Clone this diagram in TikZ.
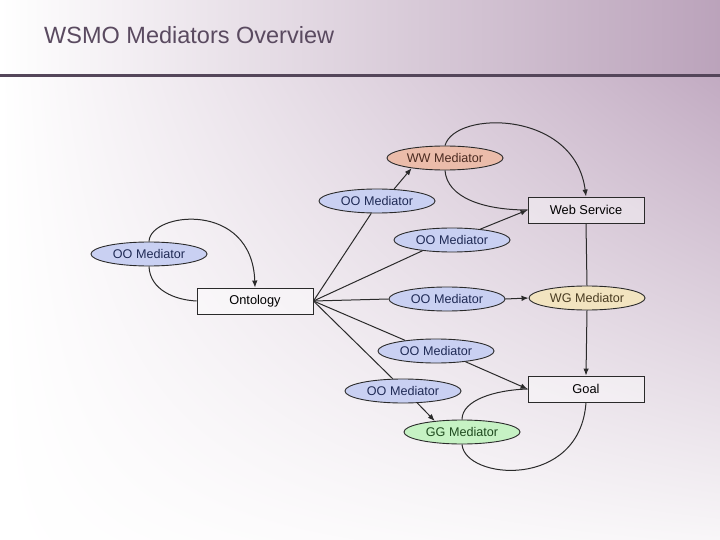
\documentclass[tikz,border=0pt]{standalone}
\usepackage{fontspec}
\setmainfont{Liberation Sans}
\usepackage{tikz}
\usetikzlibrary{shapes.geometric,arrows.meta,shadings}

\definecolor{titletext}{HTML}{5A4A60}
\definecolor{titlebar}{HTML}{54465A}
\definecolor{lilac}{HTML}{BBA3BB}
\definecolor{paleback}{HTML}{C2ABC2}
\definecolor{oofill}{HTML}{C9D0F2}
\definecolor{ootext}{HTML}{1F2A55}
\definecolor{wwfill}{HTML}{EBBCAA}
\definecolor{wwtext}{HTML}{4A2A20}
\definecolor{wgfill}{HTML}{F2E4C0}
\definecolor{wgtext}{HTML}{4A3C22}
\definecolor{ggfill}{HTML}{C6F2C4}
\definecolor{ggtext}{HTML}{1F4A1F}
\definecolor{edgecol}{HTML}{2A2A2A}
\definecolor{palewhite}{HTML}{F8F6F8}

\begin{document}
\begin{tikzpicture}
  [x=1pt,y=-1pt,>={Latex[length=7pt,width=5.5pt]},
   med_style/.style={ellipse,draw=edgecol,line width=0.9pt,minimum width=116pt,minimum height=24pt,inner sep=0pt,font=\fontsize{12.6}{14}\selectfont},
   oo_style/.style={med_style,fill=oofill,text=ootext},
   box_style/.style={rectangle,draw=edgecol,line width=0.9pt,fill=white,fill opacity=0.4,text opacity=1,minimum width=116pt,minimum height=26pt,inner sep=0pt,font=\fontsize{12.8}{14}\selectfont},
   edge_style/.style={draw=edgecol,line width=1pt}]
  \useasboundingbox (0,0) rectangle (720,540);
  % background and title
  \shade[upper left=white,upper right=paleback,lower left=white,lower right=palewhite] (0,78) rectangle (720,540);
  \shade[left color=white,right color=lilac] (0,0) rectangle (720,76);
  \fill[titlebar] (0,74.5) rectangle (720,77.5);
  \node[anchor=base west,inner sep=0pt,text=titletext,font=\fontsize{23.5}{26}\selectfont] (title) at (44,44) {WSMO Mediators Overview};

  % elements
  \node[box_style] (ont) at (255,301) {Ontology};
  \node[box_style] (ws) at (586,210) {Web Service};
  \node[box_style] (goal) at (586,389) {Goal};
  \node[med_style,fill=wwfill,text=wwtext] (ww) at (445,158) {WW Mediator};
  \node[med_style,fill=wgfill,text=wgtext] (wg) at (587,298) {WG Mediator};
  \node[med_style,fill=ggfill,text=ggtext] (gg) at (462,432) {GG Mediator};
  \node[oo_style] (m0) at (149,254) {OO Mediator};
  \node[oo_style] (m1) at (377,201) {OO Mediator};
  \node[oo_style] (m2) at (452,240) {OO Mediator};
  \node[oo_style] (m3) at (447,299) {OO Mediator};
  \node[oo_style] (m4) at (436,351) {OO Mediator};
  \node[oo_style] (m5) at (403,391) {OO Mediator};

  % oo mediators leaving the ontology
  \draw[edge_style] (ont.east) -- (m1.245);
  \draw[edge_style,->] (m1.35) -- (ww.197);
  \draw[edge_style] (ont.east) -- (m2.200);
  \draw[edge_style,->] (m2.21) -- (ws.west);
  \draw[edge_style] (ont.east) -- (m3.west);
  \draw[edge_style,->] (m3.east) -- (wg.west);
  \draw[edge_style] (ont.east) -- (m4.161);
  \draw[edge_style,->] (m4.-20) -- (goal.west);
  \draw[edge_style] (ont.east) -- (m5.130);
  \draw[edge_style,->] (m5.-40) -- (gg.158);

  % loops
  \draw[edge_style] (ont.west) .. controls (175,300) and (150,290) .. (m0.south);
  \draw[edge_style,->] (m0.north) .. controls (150,212) and (252,200) .. (ont.north);
  \draw[edge_style] (ww.south) .. controls (447,197) and (482,210) .. (ws.west);
  \draw[edge_style,->] (ww.north) .. controls (455,110) and (575,110) .. (ws.north);
  \draw[edge_style] (gg.north) .. controls (462,400) and (495,390) .. (goal.west);
  \draw[edge_style] (gg.south) .. controls (465,480) and (580,490) .. (goal.south);

  % web service to goal
  \draw[edge_style] (ws.south) -- (wg.north);
  \draw[edge_style,->] (wg.south) -- (goal.north);
\end{tikzpicture}
\end{document}
